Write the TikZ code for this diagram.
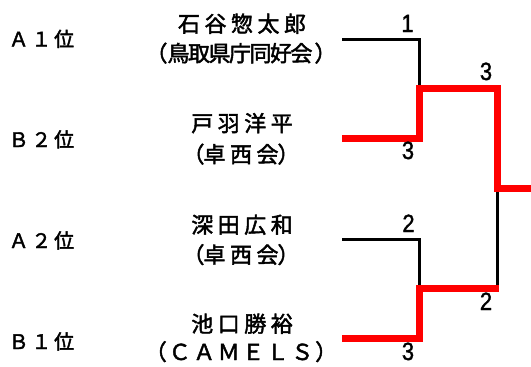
\documentclass[tikz,border=0pt]{standalone}
\usepackage{fontspec}
\usepackage{graphicx}
\newfontfamily\jpfont[FakeBold=2]{Noto Sans CJK JP}
\newfontfamily\numfont[FakeBold=1.5]{Liberation Sans}
\newcommand\gapC{\hspace{4.5pt}}
\newcommand\gapR{\hspace{2.7pt}}
\newcommand\gapL{\hspace{2.5pt}}
\newcommand\gapN{\kern-1.5pt}
\newcommand\nm[1]{\scalebox{0.88}[1]{#1}}
\tikzset{
  pname/.style={anchor=base, inner sep=0pt, font=\jpfont\fontsize{22}{22}\selectfont},
  rank/.style={anchor=base west, inner sep=0pt, font=\jpfont\fontsize{20}{20}\selectfont},
  score/.style={anchor=base, inner sep=0pt, font=\numfont\fontsize{25}{25}\selectfont},
  loss/.style={line width=3pt, black},
  win/.style={line width=7pt, red, line join=miter},
}
\begin{document}
\begin{tikzpicture}[x=1pt,y=-1pt]
\useasboundingbox (0,0) rectangle (531,367);
% rank labels
\node[rank] (r1) at (8.5,46.5) {Ａ\gapR １\gapR 位};
\node[rank] (r2) at (8.5,147) {Ｂ\gapR ２\gapR 位};
\node[rank] (r3) at (8.5,248) {Ａ\gapR ２\gapR 位};
\node[rank] (r4) at (8.5,349) {Ｂ\gapR １\gapR 位};
% player names
\node[pname] (p1) at (242,32) {石\gapC 谷\gapC 惣\gapC 太\gapC 郎};
\node[pname] (c1) at (241,61.5) {（鳥\gapN 取\gapN 県\gapN 庁\gapN 同\gapN 好\gapN 会\hspace{2pt}）};
\node[pname] (p2) at (242,131.5) {戸\gapC 羽\gapC 洋\gapC 平};
\node[pname] (c2) at (241,162.5) {（\kern-1pt 卓\gapC 西\gapC 会\kern-1pt ）};
\node[pname] (p3) at (242,233) {深\gapC 田\gapC 広\gapC 和};
\node[pname] (c3) at (241,263) {（\kern-1pt 卓\gapC 西\gapC 会\kern-1pt ）};
\node[pname] (p4) at (242,332) {池\gapC 口\gapC 勝\gapC 裕};
\node[pname] (c4) at (241,360) {（\hspace{2pt}Ｃ\gapL Ａ\gapL Ｍ\gapL Ｅ\gapL Ｌ\gapL Ｓ\hspace{2pt}）};
% bracket points
\coordinate (s1) at (342,39);
\coordinate (s2) at (342,138.5);
\coordinate (s3) at (342,239);
\coordinate (s4) at (342,338);
\coordinate (j1) at (419.5,88);
\coordinate (j2) at (419.5,288);
\coordinate (f1) at (497,188);
\coordinate (f2) at (497,288);
\coordinate (out) at (531,188);
% losing lines
\draw[loss] (s1) -| (j1);
\draw[loss] (s3) -| (j2);
\draw[loss] (f1) -- (f2);
% winning lines
\draw[win] (s2) -| (j1) -| (f1) -- (out);
\draw[win] (s4) -| (j2) -- ([xshift=2pt]f2);
% scores
\node[score] (n1) at (407.5,32) {\nm{1}};
\node[score] (n2) at (408,159) {\nm{3}};
\node[score] (n3) at (408.5,232) {\nm{2}};
\node[score] (n4) at (408,360) {\nm{3}};
\node[score] (n5) at (486,80) {\nm{3}};
\node[score] (n6) at (486,310) {\nm{2}};
\end{tikzpicture}
\end{document}
